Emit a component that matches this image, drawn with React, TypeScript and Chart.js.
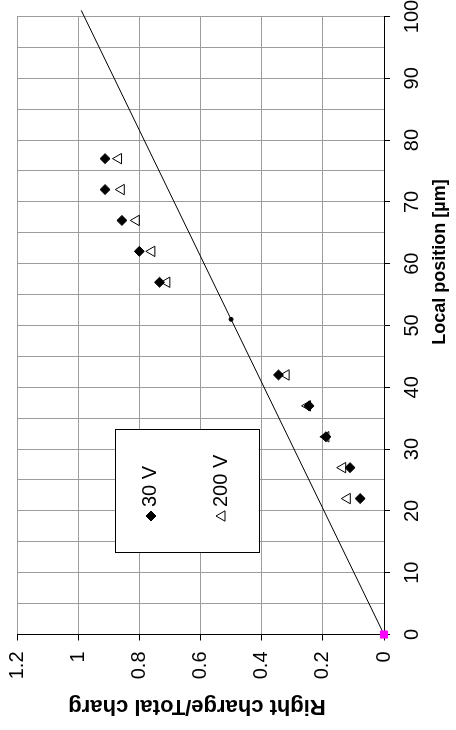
import React, { useEffect, useRef } from 'react';
import { Chart, registerables } from 'chart.js';

Chart.register(...registerables);

// Measured charge sharing versus local position
const positions = [22, 27, 32, 37, 42, 57, 62, 67, 72, 77];
const ratio30V = [0.078, 0.111, 0.19, 0.245, 0.345, 0.734, 0.8, 0.857, 0.912, 0.912];
const ratio200V = [0.12, 0.135, 0.19, 0.25, 0.32, 0.71, 0.759, 0.81, 0.859, 0.868];

// Linear reference: ratio = position / pitch
const linePositions = [0, 51, 101];
const lineRatios = [0, 0.5, 0.99];

const seriesLabels = ['30 V', '200 V'];
const ratioTicks = [0, 0.2, 0.4, 0.6, 0.8, 1, 1.2];
const xTitle = 'Local position [µm]';
const yTitle = 'Right charge/Total charg';

const W = 730;
const H = 456;
const FONT = '"Liberation Sans", Arial, Helvetica, sans-serif';
const GRID = '#9c9c9c';
const CLEAR = 'rgba(0,0,0,0)';

function drawDiamond(ctx: CanvasRenderingContext2D, x: number, y: number, r: number) {
  ctx.beginPath();
  ctx.moveTo(x, y - r);
  ctx.lineTo(x + r, y);
  ctx.lineTo(x, y + r);
  ctx.lineTo(x - r, y);
  ctx.closePath();
  ctx.fillStyle = '#000';
  ctx.fill();
  ctx.strokeStyle = '#000';
  ctx.lineWidth = 1;
  ctx.stroke();
}

function drawTriangle(ctx: CanvasRenderingContext2D, x: number, y: number, r: number) {
  let a = 0;
  ctx.beginPath();
  ctx.moveTo(x + Math.sin(a) * r, y - Math.cos(a) * r);
  a += (2 * Math.PI) / 3;
  ctx.lineTo(x + Math.sin(a) * r, y - Math.cos(a) * r);
  a += (2 * Math.PI) / 3;
  ctx.lineTo(x + Math.sin(a) * r, y - Math.cos(a) * r);
  ctx.closePath();
  ctx.strokeStyle = '#000';
  ctx.lineWidth = 1;
  ctx.stroke();
}

// Axis titles and the boxed legend inside the plot
const annotations = {
  id: 'annotations',
  afterDraw(chart: Chart) {
    const ctx = chart.ctx;
    ctx.save();
    ctx.fillStyle = '#000';
    ctx.textAlign = 'center';
    ctx.textBaseline = 'middle';
    ctx.font = `bold 18px ${FONT}`;
    ctx.fillText(xTitle, 468, 440);

    ctx.save();
    ctx.translate(24, 197);
    ctx.rotate(-Math.PI / 2);
    ctx.font = `bold 22px ${FONT}`;
    ctx.fillText(yTitle, 0, 0);
    ctx.restore();

    // legend box
    ctx.fillStyle = '#fff';
    ctx.fillRect(177, 115, 123, 144);
    ctx.strokeStyle = '#000';
    ctx.lineWidth = 1;
    ctx.strokeRect(177.5, 115.5, 123, 144);

    drawDiamond(ctx, 214, 151, 5);
    drawTriangle(ctx, 214, 222, 6);
    ctx.fillStyle = '#000';
    ctx.textAlign = 'left';
    ctx.font = `20px ${FONT}`;
    ctx.fillText(seriesLabels[0], 223, 150);
    ctx.fillText(seriesLabels[1], 223, 221);
    ctx.restore();
  },
};

export default function App() {
  const ref = useRef<HTMLCanvasElement>(null);

  useEffect(() => {
    if (!ref.current) return;
    const chart = new Chart(ref.current, {
      type: 'scatter',
      data: {
        datasets: [
          {
            label: seriesLabels[0],
            data: positions.map((x, i) => ({ x, y: ratio30V[i] })),
            pointStyle: 'rectRot',
            pointRadius: 5,
            pointBackgroundColor: '#000',
            pointBorderColor: '#000',
            pointBorderWidth: 1,
          },
          {
            label: seriesLabels[1],
            data: positions.map((x, i) => ({ x, y: ratio200V[i] })),
            pointStyle: 'triangle',
            pointRadius: 6,
            pointBackgroundColor: CLEAR,
            pointBorderColor: '#000',
            pointBorderWidth: 1,
          },
          {
            label: 'fit',
            data: linePositions.map((x, i) => ({ x, y: lineRatios[i] })),
            showLine: true,
            borderColor: '#000',
            borderWidth: 1,
            clip: false,
            pointStyle: ['rect', 'circle', 'circle'],
            pointRadius: [5, 2, 0],
            pointBackgroundColor: ['#ff00ff', '#000', '#000'],
            pointBorderColor: ['#ff00ff', '#000', '#000'],
            pointBorderWidth: 1,
          },
        ],
      },
      options: {
        responsive: false,
        animation: false,
        events: [],
        layout: { padding: { left: 0, right: 16.5, top: 17, bottom: 0 } },
        plugins: {
          legend: { display: false },
          tooltip: { enabled: false },
          title: { display: false },
        },
        scales: {
          x: {
            type: 'linear',
            position: 'bottom',
            min: 0,
            max: 100,
            afterFit: (s: any) => {
              s.height = 72;
              s.paddingLeft = 0;
              s.paddingRight = 0;
            },
            ticks: {
              stepSize: 5,
              autoSkip: false,
              maxRotation: 0,
              minRotation: 0,
              padding: 10,
              color: '#000',
              font: { family: FONT, size: 20 },
              callback: (v: any) => (Number(v) % 10 === 0 ? String(v) : ''),
            },
            grid: {
              color: (c: any) => (c.tick && c.tick.value === 0 ? CLEAR : GRID),
              tickColor: (c: any) => (c.tick && c.tick.value % 10 === 0 ? '#000' : CLEAR),
              tickLength: 6,
              lineWidth: 1,
            },
            border: { color: '#000', width: 1 },
          },
          y: {
            type: 'linear',
            min: 0,
            max: 1.2,
            afterFit: (s: any) => {
              s.width = 95.5;
              s.paddingTop = 0;
              s.paddingBottom = 0;
            },
            afterBuildTicks: (s: any) => {
              s.ticks = ratioTicks.map((value) => ({ value }));
            },
            ticks: {
              padding: 11,
              color: '#000',
              font: { family: FONT, size: 20 },
              callback: (v: any) => String(v),
            },
            grid: {
              color: (c: any) => (c.tick && c.tick.value === 0 ? CLEAR : GRID),
              tickColor: '#000',
              tickLength: 6,
              lineWidth: 1,
            },
            border: { color: '#000', width: 1 },
          },
        },
      },
      plugins: [annotations],
    } as any);
    return () => chart.destroy();
  }, []);

  return (
    <div
      style={{
        position: 'fixed',
        left: 0,
        top: 0,
        width: W,
        height: H,
        background: '#fff',
        transformOrigin: '0 0',
        transform: `translate(0px, ${W}px) rotate(-90deg)`,
      }}
    >
      <canvas ref={ref} width={W} height={H} style={{ display: 'block', width: W, height: H }} />
    </div>
  );
}
